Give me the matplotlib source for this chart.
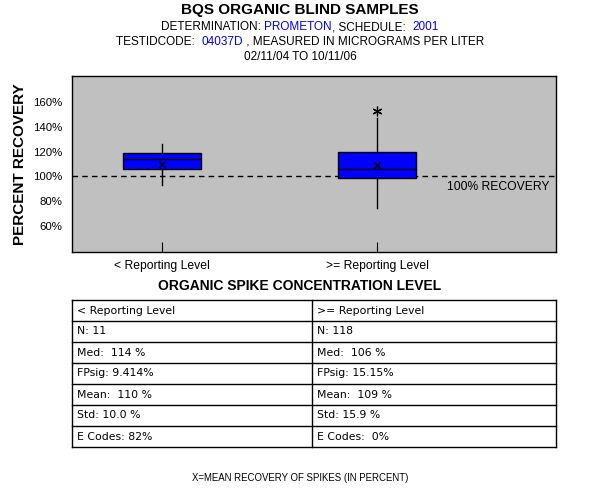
import matplotlib
matplotlib.use("Agg")
import matplotlib.pyplot as plt

plt.rcParams['font.family'] = ['Liberation Sans', 'DejaVu Sans']

# data
groups = ['< Reporting Level', '>= Reporting Level']
q1 = [105.6, 98.4]
q3 = [118.5, 119.5]
med = [113.7, 105.6]
whislo = [93.3, 74.3]
whishi = [126.0, 147.5]
means = [109.7, 108.8]
fliers = [[], [152.5]]

yticks = [60, 80, 100, 120, 140, 160]

left_rows = ['< Reporting Level', 'N: 11', 'Med:  114 %', 'FPsig: 9.414%',
             'Mean:  110 %', 'Std: 10.0 %', 'E Codes: 82%']
right_rows = ['>= Reporting Level', 'N: 118', 'Med:  106 %', 'FPsig: 15.15%',
              'Mean:  109 %', 'Std: 15.9 %', 'E Codes:  0%']

W, H = 600, 500
fig = plt.figure(figsize=(6, 5), dpi=100)


def px(x, y):
    return x / W, 1 - y / H


def colored_line(y, parts, size):
    # draw text pieces in a row, centred on the figure
    texts = []
    for s, c in parts:
        texts.append(fig.text(0, 0, s, color=c, fontsize=size, va='center'))
    r = fig.canvas.get_renderer()
    widths = [t.get_window_extent(r).width for t in texts]
    x = (W - sum(widths)) / 2
    for t, w in zip(texts, widths):
        t.set_position(px(x, y))
        x += w


fig.text(0.5, 1 - 10 / H, 'BQS ORGANIC BLIND SAMPLES', ha='center', va='center',
         fontsize=11, fontweight='bold')
colored_line(27, [('DETERMINATION: ', 'black'), ('PROMETON', 'blue'),
                  (', SCHEDULE:  ', 'black'), ('2001', 'blue')], 8.5)
colored_line(42, [('TESTIDCODE:  ', 'black'), ('04037D', 'blue'),
                  (' , MEASURED IN MICROGRAMS PER LITER', 'black')], 8.5)
fig.text(0.5, 1 - 57.5 / H, '02/11/04 TO 10/11/06', ha='center', va='center', fontsize=8.5)

# box plot
ax = fig.add_axes([72 / W, 1 - 252 / H, 484 / W, 176 / H])
ax.set_facecolor('#c0c0c0')
stats = []
for i in range(len(groups)):
    stats.append(dict(med=med[i], q1=q1[i], q3=q3[i], whislo=whislo[i],
                      whishi=whishi[i], mean=means[i], fliers=fliers[i]))
ax.bxp(stats, positions=[1, 2], widths=0.36, showmeans=True, showcaps=False,
       patch_artist=True,
       boxprops=dict(facecolor='blue', edgecolor='black', linewidth=1),
       medianprops=dict(color='black', linewidth=1),
       whiskerprops=dict(color='black', linewidth=1),
       meanprops=dict(marker='x', markeredgecolor='black', markersize=5,
                      markeredgewidth=1),
       flierprops=dict(marker=(6, 2, 0), markeredgecolor='black', markersize=7,
                       markeredgewidth=0.9))
ax.axhline(100, color='black', linewidth=1, dashes=(4, 3), zorder=1)
ax.text(2.324, 91.4, '100% RECOVERY', fontsize=8.7, va='center', ha='left')

ax.set_xlim(0.581, 2.833)
ax.set_ylim(39, 181)
ax.set_yticks(yticks)
ax.set_yticklabels([f'{v}%' for v in yticks], fontsize=8.2)
ax.set_xticks([1, 2])
ax.set_xticklabels(groups, fontsize=8.7)
ax.tick_params(axis='y', length=0, pad=7)
ax.tick_params(axis='x', direction='in', length=7, pad=6)
for sp in ax.spines.values():
    sp.set_linewidth(1)
ax.set_ylabel('PERCENT RECOVERY', fontsize=11, fontweight='bold')
ax.yaxis.set_label_coords((27 - 72) / 484, 0.5)

fig.text(0.5, 1 - 286 / H, 'ORGANIC SPIKE CONCENTRATION LEVEL', ha='center',
         va='center', fontsize=10, fontweight='bold')

# stats table
tb = fig.add_axes([72 / W, 1 - 447 / H, 484 / W, 147 / H])
tb.set_xlim(0, 484)
tb.set_ylim(147, 0)
tb.axis('off')
rh = 147 / len(left_rows)
for i in range(len(left_rows) + 1):
    tb.plot([0, 484], [i * rh, i * rh], color='black', linewidth=1, clip_on=False)
for x in [0, 240, 484]:
    tb.plot([x, x], [0, 147], color='black', linewidth=1, clip_on=False)
for i, (a, b) in enumerate(zip(left_rows, right_rows)):
    tb.text(5, (i + 0.5) * rh, a, va='center', fontsize=7.8, family='DejaVu Sans')
    tb.text(245, (i + 0.5) * rh, b, va='center', fontsize=7.8, family='DejaVu Sans')

fig.text(0.5, 1 - 478 / H, 'X=MEAN RECOVERY OF SPIKES (IN PERCENT)', ha='center',
         va='center', fontsize=6.9)

fig.savefig('out.png', dpi=100)
